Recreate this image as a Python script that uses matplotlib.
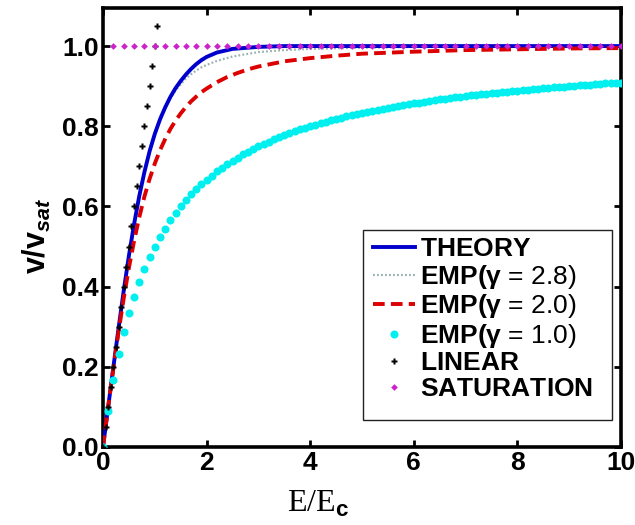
import matplotlib
matplotlib.use('Agg')
import matplotlib.pyplot as plt
from matplotlib.patches import Rectangle

# ---------------- data ----------------
theory_E = [0.0, 0.1, 0.2, 0.3, 0.4, 0.5, 0.6, 0.7, 0.8, 0.9, 1.0, 1.1, 1.2, 1.3, 1.4,
            1.5, 1.6, 1.7, 1.8, 1.9, 2.0, 2.2, 2.5, 3.0, 3.5, 4.0, 5.0, 6.0, 7.0, 8.0, 10.0]
theory_v = [0.0, 0.100, 0.199, 0.296, 0.390, 0.477, 0.556, 0.626, 0.686, 0.738, 0.781, 0.817,
            0.847, 0.873, 0.895, 0.913, 0.929, 0.943, 0.955, 0.965, 0.973, 0.984, 0.993,
            0.998, 1.0, 1.0, 1.0, 1.0, 1.0, 1.0, 1.0]

emp28_E = [0.0, 0.1, 0.2, 0.3, 0.4, 0.5, 0.6, 0.7, 0.8, 0.9, 1.0, 1.1, 1.2, 1.3, 1.4,
           1.5, 1.6, 1.7, 1.8, 1.9, 2.0, 2.2, 2.5, 3.0, 3.5, 4.0, 5.0, 6.0, 7.0, 8.0, 10.0]
emp28_v = [0.0, 0.100, 0.199, 0.296, 0.390, 0.477, 0.556, 0.626, 0.686, 0.738, 0.781, 0.816,
           0.845, 0.870, 0.889, 0.905, 0.919, 0.930, 0.939, 0.947, 0.953, 0.963, 0.974,
           0.985, 0.990, 0.993, 0.996, 0.998, 0.999, 0.999, 1.0]

emp20_E = [0.0, 0.1, 0.2, 0.3, 0.4, 0.5, 0.6, 0.7, 0.8, 0.9, 1.0, 1.1, 1.2, 1.3, 1.4,
           1.5, 1.6, 1.7, 1.8, 1.9, 2.0, 2.2, 2.4, 2.6, 2.8, 3.0, 3.5, 4.0, 4.5, 5.0,
           6.0, 7.0, 8.0, 9.0, 10.0]
emp20_v = [0.0, 0.100, 0.196, 0.287, 0.371, 0.447, 0.514, 0.573, 0.625, 0.669, 0.707, 0.740,
           0.768, 0.793, 0.814, 0.832, 0.848, 0.862, 0.874, 0.885, 0.894, 0.910, 0.923,
           0.933, 0.942, 0.949, 0.962, 0.970, 0.976, 0.981, 0.986, 0.990, 0.992, 0.994, 0.995]

emp10_E = [0.0, 0.1, 0.2, 0.3, 0.4, 0.5, 0.6, 0.7, 0.8, 0.9, 1.0, 1.1, 1.2, 1.3, 1.4,
           1.5, 1.6, 1.7, 1.8, 1.9, 2.0, 2.1, 2.2, 2.3, 2.4, 2.5, 2.6, 2.7, 2.8, 2.9,
           3.0, 3.1, 3.2, 3.3, 3.4, 3.5, 3.6, 3.7, 3.8, 3.9, 4.0, 4.1, 4.2, 4.3, 4.4,
           4.5, 4.6, 4.7, 4.8, 4.9, 5.0, 5.1, 5.2, 5.3, 5.4, 5.5, 5.6, 5.7, 5.8, 5.9,
           6.0, 6.1, 6.2, 6.3, 6.4, 6.5, 6.6, 6.7, 6.8, 6.9, 7.0, 7.1, 7.2, 7.3, 7.4,
           7.5, 7.6, 7.7, 7.8, 7.9, 8.0, 8.1, 8.2, 8.3, 8.4, 8.5, 8.6, 8.7, 8.8, 8.9,
           9.0, 9.1, 9.2, 9.3, 9.4, 9.5, 9.6, 9.7, 9.8, 9.9, 10.0]
emp10_v = [0.0, 0.091, 0.167, 0.231, 0.286, 0.333, 0.375, 0.412, 0.444, 0.474, 0.500,
           0.524, 0.545, 0.565, 0.583, 0.600, 0.615, 0.630, 0.643, 0.655, 0.667,
           0.677, 0.688, 0.697, 0.706, 0.714, 0.722, 0.730, 0.737, 0.744, 0.750,
           0.756, 0.762, 0.767, 0.773, 0.778, 0.783, 0.787, 0.792, 0.796, 0.800,
           0.804, 0.808, 0.811, 0.815, 0.818, 0.821, 0.825, 0.828, 0.831, 0.833,
           0.836, 0.839, 0.841, 0.844, 0.846, 0.848, 0.851, 0.853, 0.855, 0.857,
           0.859, 0.861, 0.863, 0.865, 0.867, 0.868, 0.870, 0.872, 0.873, 0.875,
           0.877, 0.878, 0.880, 0.881, 0.882, 0.884, 0.885, 0.886, 0.888, 0.889,
           0.890, 0.891, 0.892, 0.894, 0.895, 0.896, 0.897, 0.898, 0.899, 0.900,
           0.901, 0.902, 0.903, 0.904, 0.905, 0.906, 0.907, 0.907, 0.908, 0.909]

linear_E = [0.0, 0.05, 0.10, 0.15, 0.20, 0.25, 0.30, 0.35, 0.40, 0.45, 0.50,
            0.55, 0.60, 0.65, 0.70, 0.75, 0.80, 0.85, 0.90, 0.95, 1.00, 1.05]
linear_v = [0.0, 0.05, 0.10, 0.15, 0.20, 0.25, 0.30, 0.35, 0.40, 0.45, 0.50,
            0.55, 0.60, 0.65, 0.70, 0.75, 0.80, 0.85, 0.90, 0.95, 1.00, 1.05]

sat_E = [0.2, 0.4, 0.6, 0.8, 1.0, 1.2, 1.4, 1.6, 1.8, 2.0, 2.2, 2.4, 2.6, 2.8, 3.0,
         3.2, 3.4, 3.6, 3.8, 4.0, 4.2, 4.4, 4.6, 4.8, 5.0, 5.2, 5.4, 5.6, 5.8, 6.0,
         6.2, 6.4, 6.6, 6.8, 7.0, 7.2, 7.4, 7.6, 7.8, 8.0, 8.2, 8.4, 8.6, 8.8, 9.0,
         9.2, 9.4, 9.6, 9.8, 10.0]
sat_v = [1.0] * len(sat_E)

series_labels = ['THEORY', '2.8', '2.0', '1.0', 'LINEAR', 'SATURATION']
x_ticks = [0, 2, 4, 6, 8, 10]
y_ticks = [0.0, 0.2, 0.4, 0.6, 0.8, 1.0]
y_tick_labels = ['0.0', '0.2', '0.4', '0.6', '0.8', '1.0']

# ---------------- style ----------------
plt.rcParams['font.family'] = ['Liberation Sans', 'DejaVu Sans']
plt.rcParams['mathtext.fontset'] = 'custom'
plt.rcParams['mathtext.rm'] = 'Liberation Sans'
plt.rcParams['mathtext.bf'] = 'Liberation Sans:bold'
plt.rcParams['mathtext.it'] = 'Liberation Sans:italic:bold'
plt.rcParams['mathtext.sf'] = 'Liberation Sans:bold'

fig = plt.figure(figsize=(6.35, 5.25), dpi=100)
ax = fig.add_axes([103 / 635, 78 / 525, 518 / 635, 439 / 525])

ax.plot(theory_E, theory_v, color='#0000cc', lw=2.8, label=r'$\mathbf{%s}$' % series_labels[0], zorder=3)
ax.plot(emp28_E, emp28_v, color='#98b0b0', lw=1.6, ls=(0, (0.8, 1.0)),
        label=r'$\mathbf{EMP(γ}$ = %s)' % series_labels[1], zorder=2)
ax.plot(emp20_E, emp20_v, color='#dd0000', lw=2.8, ls=(0, (3.0, 1.6)),
        label=r'$\mathbf{EMP(γ}$ = %s)' % series_labels[2], zorder=4)
ax.plot(emp10_E, emp10_v, ls='none', marker='o', ms=5.8, mec='none', color='#00f0f0',
        label=r'$\mathbf{EMP(γ}$ = %s)' % series_labels[3], zorder=4)
ax.plot(linear_E, linear_v, ls='none', marker='P', ms=4.0, mec='none', color='black',
        label=r'$\mathbf{%s}$' % series_labels[4], zorder=5)
ax.plot(sat_E, sat_v, ls='none', marker='D', ms=3.4, mec='none', color='#cc22cc',
        label=r'$\mathbf{%s}$' % series_labels[5], zorder=6)

ax.set_xlim(0, 10)
ax.set_ylim(0, 1.095)
ax.set_xticks(x_ticks)
ax.set_xticklabels([str(t) for t in x_ticks])
ax.set_yticks(y_ticks)
ax.set_yticklabels(y_tick_labels)
ax.tick_params(direction='in', top=True, right=True, length=5, width=2,
               labelsize=19, pad=3)
for lab in ax.get_xticklabels() + ax.get_yticklabels():
    lab.set_fontweight('bold')
for sp in ax.spines.values():
    sp.set_linewidth(2.6)

ax.set_xlabel(r'E/E$_{\mathbf{c}}$', family='Liberation Serif', fontsize=23)
ax.xaxis.set_label_coords(0.415, -0.095)
ax.set_ylabel(r'$\mathbf{v/v}_{\mathit{sat}}$', fontsize=22)
ax.yaxis.set_label_coords(-0.097, 0.48)

# legend frame (drawn separately to match the reference's padding)
frame = Rectangle((0.502, 0.0615), 0.481, 0.433, transform=ax.transAxes,
                  facecolor='white', edgecolor='#222222', lw=1.0, zorder=7)
ax.add_patch(frame)
leg = ax.legend(loc='upper left', bbox_to_anchor=(0.521, 0.478), borderaxespad=0,
                prop={'family': 'Liberation Sans', 'size': 19}, frameon=False,
                handlelength=1.6, handletextpad=0.19,
                labelspacing=0.06, borderpad=0.0)
leg.set_zorder(8)

fig.savefig('out.png', dpi=100)
